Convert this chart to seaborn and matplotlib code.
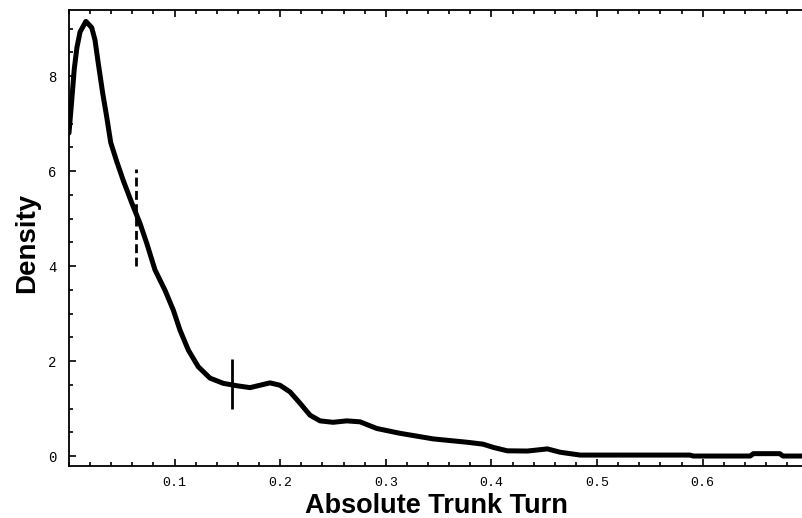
import matplotlib
matplotlib.use("Agg")
import matplotlib.pyplot as plt
import seaborn as sns
import pandas as pd
from matplotlib.ticker import MultipleLocator, FixedLocator

# Data
turn = [0.0, 0.003, 0.005, 0.0075, 0.0105, 0.016, 0.0215, 0.0246, 0.0277, 0.0319,
        0.0357, 0.0395, 0.0452, 0.0514, 0.0594, 0.0672, 0.0736, 0.0814, 0.0909, 0.0988,
        0.1051, 0.113, 0.1224, 0.1335, 0.1461, 0.1588, 0.1714, 0.1903, 0.1998, 0.2093,
        0.2188, 0.2282, 0.2377, 0.25, 0.263, 0.2756, 0.2914, 0.313, 0.345, 0.377,
        0.392, 0.402, 0.415, 0.434, 0.453, 0.465, 0.484, 0.588, 0.591, 0.645,
        0.648, 0.673, 0.676, 0.695]
density = [6.8, 7.6, 8.15, 8.6, 8.93, 9.15, 9.02, 8.76, 8.27, 7.64,
           7.14, 6.6, 6.2, 5.8, 5.33, 4.9, 4.48, 3.92, 3.49, 3.07,
           2.65, 2.23, 1.88, 1.64, 1.53, 1.48, 1.44, 1.54, 1.49, 1.35,
           1.11, 0.86, 0.74, 0.71, 0.74, 0.72, 0.58, 0.48, 0.36, 0.29,
           0.25, 0.18, 0.11, 0.105, 0.15, 0.08, 0.02, 0.02, 0.0, 0.0,
           0.05, 0.05, 0.0, 0.0]

dashed_x, dashed_lo, dashed_hi = [0.063], [4.0], [6.05]
solid_x, solid_lo, solid_hi = [0.154], [1.0], [2.05]

xticks = [0.1, 0.2, 0.3, 0.4, 0.5, 0.6]
xticklabels = ["0.1", "0.2", "0.3", "0.4", "0.5", "0.6"]
yticks = [0, 2, 4, 6, 8]
yticklabels = ["0", "2", "4", "6", "8"]

sns.set_style("ticks")
plt.rcParams['font.family'] = ['Liberation Sans', 'DejaVu Sans']

df = pd.DataFrame({"turn": turn, "density": density})

fig = plt.figure(figsize=(8.03, 5.18), dpi=100)
ax = fig.add_axes([69/803, 1-466/518, (803-69)/803, (466-10)/518])

sns.lineplot(data=df, x="turn", y="density", ax=ax, color="black",
             linewidth=3.6, solid_joinstyle="round", solid_capstyle="round")
ax.vlines(dashed_x, dashed_lo, dashed_hi, colors="black", linewidth=2.0,
          linestyles=(0, (3.2, 1.6)))
ax.vlines(solid_x, solid_lo, solid_hi, colors="black", linewidth=2.0)

ax.set_xlim(0, 0.695)
ax.set_ylim(-0.21, 9.39)

ax.xaxis.set_major_locator(FixedLocator(xticks))
ax.set_xticklabels(xticklabels, family="Liberation Mono", fontsize=9.5, color="black")
ax.xaxis.set_minor_locator(MultipleLocator(0.02))
ax.yaxis.set_major_locator(FixedLocator(yticks))
ax.set_yticklabels(yticklabels, family="Liberation Mono", fontsize=10, color="black")
ax.yaxis.set_minor_locator(MultipleLocator(0.5))

ax.tick_params(which="both", direction="in", top=True, right=False, width=1.2,
               color="black")
ax.tick_params(which="major", length=5)
ax.tick_params(which="minor", length=3)
ax.tick_params(axis="x", which="major", pad=8)
ax.tick_params(axis="y", which="major", pad=9)

for s in ["left", "bottom", "top"]:
    ax.spines[s].set_visible(True)
    ax.spines[s].set_linewidth(1.3)
    ax.spines[s].set_color("black")
ax.spines["right"].set_visible(False)

ax.set_xlabel("Absolute Trunk Turn", fontsize=19.5, fontweight="bold", color="black")
ax.set_ylabel("Density", fontsize=20, fontweight="bold", color="black")
ax.xaxis.label.set_va("center")
ax.xaxis.set_label_coords(0.5, -0.087)
ax.yaxis.label.set_va("center")
ax.yaxis.label.set_ha("center")
ax.yaxis.set_label_coords(-0.057, 0.49)

fig.savefig("out.png", dpi=100)
